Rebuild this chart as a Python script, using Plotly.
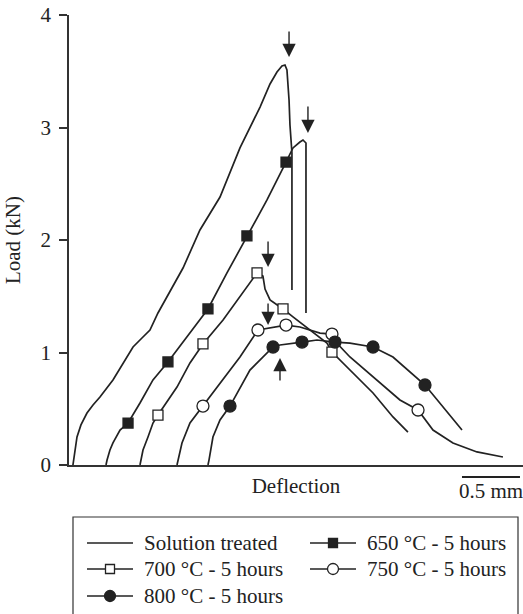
import plotly.graph_objects as go

# Load-deflection curves (deflection in mm, load in kN)
st_x = [0.034, 0.052, 0.069, 0.103, 0.155, 0.207, 0.267, 0.379, 0.466, 0.552, 0.629, 0.698,
        0.767, 0.845, 0.983, 1.129, 1.302, 1.474, 1.647, 1.733, 1.793, 1.836, 1.862, 1.879,
        1.888, 1.897, 1.905, 1.914, 1.922, 1.922]
st_y = [0.0, 0.133, 0.249, 0.356, 0.462, 0.533, 0.604, 0.756, 0.907, 1.049, 1.129, 1.2,
        1.351, 1.493, 1.751, 2.089, 2.382, 2.818, 3.182, 3.387, 3.493, 3.547, 3.556, 3.511,
        3.378, 3.244, 3.022, 2.818, 2.773, 1.556]

t650_x = [0.319, 0.328, 0.353, 0.379, 0.44, 0.509, 0.612, 0.724, 0.853, 1.017, 1.198, 1.362,
          1.534, 1.707, 1.871, 1.931, 1.991, 2.017, 2.043, 2.043]
t650_y = [0.0, 0.044, 0.133, 0.196, 0.311, 0.373, 0.551, 0.756, 0.916, 1.138, 1.387, 1.707,
          2.036, 2.356, 2.693, 2.818, 2.871, 2.889, 2.862, 1.351]
t650_mk = [5, 8, 10, 12, 14]

t700_x = [0.612, 0.621, 0.638, 0.681, 0.724, 0.767, 0.828, 0.931, 1.043, 1.155, 1.328, 1.474,
          1.621, 1.672, 1.69, 1.733, 1.845, 1.931, 2.078, 2.224, 2.267, 2.422, 2.621, 2.793, 2.922]
t700_y = [0.0, 0.044, 0.133, 0.249, 0.373, 0.444, 0.533, 0.693, 0.907, 1.076, 1.289, 1.493,
          1.707, 1.68, 1.564, 1.467, 1.387, 1.316, 1.2, 1.084, 1.004, 0.844, 0.64, 0.427, 0.293]
t700_mk = [5, 9, 12, 16, 20]

t750_x = [0.931, 0.94, 0.974, 1.043, 1.155, 1.328, 1.474, 1.629, 1.716, 1.871, 1.991, 2.164,
          2.267, 2.284, 2.422, 2.621, 2.853, 3.009, 3.138, 3.31, 3.517, 3.741]
t750_y = [0.0, 0.044, 0.196, 0.373, 0.524, 0.756, 0.96, 1.2, 1.218, 1.244, 1.227, 1.173,
          1.164, 1.111, 0.96, 0.782, 0.578, 0.489, 0.311, 0.196, 0.116, 0.071]
t750_mk = [4, 7, 9, 12, 17]

t800_x = [1.198, 1.207, 1.241, 1.302, 1.388, 1.56, 1.759, 1.819, 2.009, 2.138, 2.293, 2.422,
          2.621, 2.793, 3.069, 3.198, 3.388]
t800_y = [0.0, 0.044, 0.249, 0.4, 0.524, 0.844, 1.049, 1.067, 1.093, 1.111, 1.093, 1.084,
          1.049, 0.96, 0.711, 0.551, 0.311]
t800_mk = [4, 6, 8, 10, 12, 14]

# Arrows marking the failure point of each curve: (x, tail y, head y)
arrows = [(1.897, 3.867, 3.627), (2.06, 3.2, 2.951), (1.716, 2.0, 1.76),
          (1.716, 1.449, 1.244), (1.819, 0.738, 0.951)]

y_ticks = [0, 1, 2, 3, 4]
scale_bar_mm = 0.5

INK = "#222222"
FONT = "Liberation Serif, Times New Roman, serif"

W, H = 523, 614
ML, MR, MT, MB = 69, 0, 15, 149
PW, PH = W - ML - MR, H - MT - MB


def px(xp):
    """Horizontal figure pixel -> paper coordinate."""
    return (xp - ML) / PW


def py(yp):
    """Vertical figure pixel (from top) -> paper coordinate."""
    return (H - MB - yp) / PH


fig = go.Figure()

series = [
    ("Solution treated", st_x, st_y, [], None, None),
    ("650 °C - 5 hours", t650_x, t650_y, t650_mk, "square", INK),
    ("700 °C - 5 hours", t700_x, t700_y, t700_mk, "square", "white"),
    ("750 °C - 5 hours", t750_x, t750_y, t750_mk, "circle", "white"),
    ("800 °C - 5 hours", t800_x, t800_y, t800_mk, "circle", INK),
]

for name, xs, ys, mk, sym, fill in series:
    fig.add_trace(go.Scatter(x=xs, y=ys, mode="lines", name=name, showlegend=False,
                             line=dict(color=INK, width=1.7)))
    if mk:
        size = 10 if sym == "square" else 12
        fig.add_trace(go.Scatter(x=[xs[i] for i in mk], y=[ys[i] for i in mk],
                                 mode="markers", name=name, showlegend=False,
                                 marker=dict(symbol=sym, size=size, color=fill,
                                             line=dict(color=INK, width=1.3))))

for x, y0, y1 in arrows:
    fig.add_annotation(x=x, y=y1, ax=x, ay=y0, xref="x", yref="y", axref="x", ayref="y",
                       showarrow=True, arrowhead=2, arrowsize=1.9, arrowwidth=1.4,
                       arrowcolor=INK, text="")

# scale bar under the axis
bar_x1 = 3.888
fig.add_shape(type="line", xref="x", yref="paper", x0=bar_x1 - scale_bar_mm, x1=bar_x1,
              y0=py(477), y1=py(477), line=dict(color=INK, width=2))
fig.add_annotation(x=bar_x1 - scale_bar_mm / 2, y=py(491), xref="x", yref="paper",
                   yanchor="middle", text=f"{scale_bar_mm} mm", showarrow=False,
                   font=dict(family=FONT, size=21, color=INK))

# key box below the plot: two columns, three rows
fig.add_shape(type="rect", xref="paper", yref="paper", x0=px(73), x1=px(518),
              y0=py(622), y1=py(517), line=dict(color="#333333", width=1.2),
              fillcolor="rgba(0,0,0,0)")
col_left = [87, 310]
row_mid = [543, 569, 596]
sample_len = 46
for k, (name, xs, ys, mk, sym, fill) in enumerate(series):
    c0 = col_left[k % 2]
    r = row_mid[k // 2]
    fig.add_shape(type="line", xref="paper", yref="paper", x0=px(c0), x1=px(c0 + sample_len),
                  y0=py(r), y1=py(r), line=dict(color=INK, width=1.5))
    if sym:
        half = 4.5 if sym == "square" else 5.5
        cx = c0 + sample_len / 2
        fig.add_shape(type="rect" if sym == "square" else "circle",
                      xref="paper", yref="paper",
                      x0=px(cx - half), x1=px(cx + half), y0=py(r + half), y1=py(r - half),
                      fillcolor=fill, line=dict(color=INK, width=1.3))
    fig.add_annotation(x=px(c0 + sample_len + 9), y=py(r), xref="paper", yref="paper",
                       xanchor="left", yanchor="middle", text=name, showarrow=False,
                       font=dict(family=FONT, size=21, color=INK))

fig.update_layout(
    width=W, height=H,
    margin=dict(l=ML, r=MR, t=MT, b=MB, autoexpand=False),
    paper_bgcolor="white", plot_bgcolor="white",
    showlegend=False,
    font=dict(family=FONT, size=21, color=INK),
    xaxis=dict(range=[0, 3.914], showgrid=False, zeroline=False, showticklabels=False,
               ticks="", showline=True, linecolor="#333333", linewidth=1.5,
               title=dict(text="Deflection", standoff=13,
                          font=dict(family=FONT, size=21, color=INK))),
    yaxis=dict(range=[0, 4], tickvals=y_ticks, showgrid=False, zeroline=False,
               ticks="outside", ticklen=8, tickwidth=1.5, tickcolor="#333333",
               showline=True, linecolor="#333333", linewidth=1.5,
               ticklabelstandoff=4,
               tickfont=dict(family=FONT, size=21, color=INK),
               title=dict(text="Load (kN)", standoff=14,
                          font=dict(family=FONT, size=21, color=INK))),
)

fig.write_html("out.html")
